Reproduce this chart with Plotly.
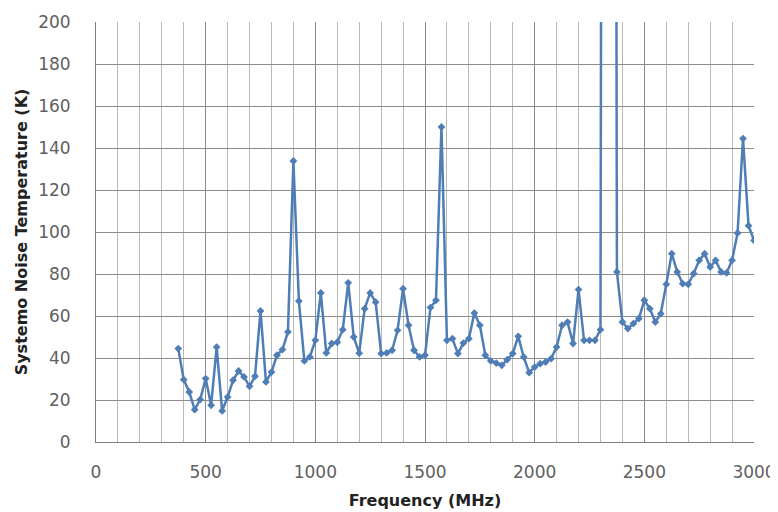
import plotly.graph_objects as go

freq_mhz = [375 + 25 * i for i in range(106)]
noise_temp_k = [
    44.5, 29.7, 23.8, 15.4, 20.2, 30.2, 17.5, 45.2, 14.8, 21.4,
    29.4, 33.8, 31.0, 26.5, 31.3, 62.4, 28.6, 33.3, 41.3, 44.0,
    52.4, 133.8, 67.1, 38.6, 40.5, 48.4, 71.0, 42.4, 46.9, 47.5,
    53.5, 75.8, 50.0, 42.3, 63.5, 71.0, 66.6, 42.1, 42.4, 43.7,
    53.2, 73.0, 55.6, 43.7, 40.5, 41.3, 64.0, 67.5, 150.0, 48.4,
    49.2, 42.1, 47.1, 49.2, 61.4, 55.6, 41.3, 38.6, 37.6, 36.5,
    39.2, 42.1, 50.3, 40.5, 33.0, 35.7, 37.3, 38.1, 39.7, 45.2,
    55.6, 57.1, 46.9, 72.6, 48.4, 48.4, 48.4, 53.5, 1500.0, 1500.0,
    81.0, 57.1, 54.0, 56.4, 58.8, 67.5, 63.5, 57.1, 61.1, 75.1,
    89.7, 81.0, 75.4, 75.1, 80.2, 86.5, 89.7, 83.3, 86.5, 81.0,
    80.5, 86.5, 99.5, 144.5, 103.0, 96.0,
]
x_ticks = [0, 500, 1000, 1500, 2000, 2500, 3000]
y_ticks = [0, 20, 40, 60, 80, 100, 120, 140, 160, 180, 200]

x_title = "Frequency (MHz)"
y_title = "Systemo Noise Temperature (K)"

fig = go.Figure()
fig.add_trace(go.Scatter(
    x=freq_mhz, y=noise_temp_k, mode="lines+markers",
    line=dict(color="#4F7DB5", width=2.5),
    marker=dict(symbol="diamond", size=6, color="#4F7DB5"),
    cliponaxis=True, showlegend=False,
))

tick_font = dict(family="DejaVu Sans", size=17, color="#606060")
title_font = dict(family="DejaVu Sans", size=16, color="#222222")

fig.update_layout(
    width=778, height=512,
    margin=dict(l=88, r=32, t=14, b=78),
    paper_bgcolor="white", plot_bgcolor="white",
    xaxis=dict(
        range=[0, 3000], tickvals=x_ticks, ticktext=[str(v) for v in x_ticks],
        showgrid=True, gridcolor="#7f8b98", gridwidth=1,
        minor=dict(dtick=100, showgrid=True, gridcolor="#b8b8b8", gridwidth=1),
        showline=True, linecolor="#808080", linewidth=1,
        zeroline=False, ticks="", tickfont=tick_font, ticklabelstandoff=15,
        title=dict(text="<b>" + x_title + "</b>", font=title_font, standoff=13),
        automargin=False,
    ),
    yaxis=dict(
        range=[0, 200], tickvals=y_ticks, ticktext=[str(v) for v in y_ticks],
        showgrid=True, gridcolor="#8c8c8c", gridwidth=1,
        showline=True, linecolor="#808080", linewidth=1,
        zeroline=False, ticks="", tickfont=tick_font, ticklabelstandoff=21,
        title=dict(text="<b>" + y_title + "</b>", font=title_font, standoff=6),
        automargin=False,
    ),
)

fig.write_html("out.html")
